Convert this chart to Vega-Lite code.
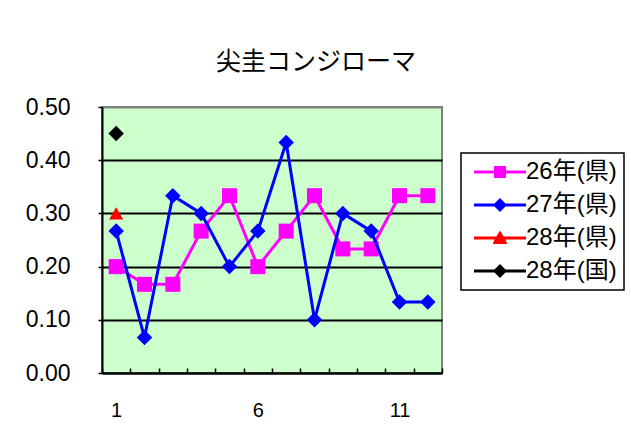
{
  "$schema": "https://vega.github.io/schema/vega-lite/v6.json",
  "width": 340,
  "height": 266,
  "autosize": {"type": "none"},
  "padding": {"left": 102, "top": 107, "right": 189, "bottom": 68},
  "background": "white",
  "title": {"text": "尖圭コンジローマ", "font": "Noto Sans CJK JP", "fontSize": 25, "fontWeight": "normal", "color": "black", "offset": 21, "anchor": "middle", "dx": 44},
  "config": {
    "view": {"fill": "#CCFFCC", "stroke": "#808080", "strokeWidth": 2},
    "font": "Liberation Sans",
    "legend": {
      "orient": "none", "legendX": 359, "legendY": 46,
      "padding": 7, "strokeColor": "black", "fillColor": "white", "strokeWidth": 1.5,
      "symbolSize": 144, "symbolStrokeWidth": 0, "symbolOpacity": 1,
      "labelFontSize": 24, "labelFont": "Liberation Sans, Noto Sans CJK JP", "labelColor": "black",
      "labelOffset": 34, "rowPadding": 9, "labelLimit": 200
    }
  },
  "data": {"values": [
    {"month": 1, "series": "26年(県)", "value": 0.2},
    {"month": 2, "series": "26年(県)", "value": 0.1667},
    {"month": 3, "series": "26年(県)", "value": 0.1667},
    {"month": 4, "series": "26年(県)", "value": 0.2667},
    {"month": 5, "series": "26年(県)", "value": 0.3333},
    {"month": 6, "series": "26年(県)", "value": 0.2},
    {"month": 7, "series": "26年(県)", "value": 0.2667},
    {"month": 8, "series": "26年(県)", "value": 0.3333},
    {"month": 9, "series": "26年(県)", "value": 0.2333},
    {"month": 10, "series": "26年(県)", "value": 0.2333},
    {"month": 11, "series": "26年(県)", "value": 0.3333},
    {"month": 12, "series": "26年(県)", "value": 0.3333},
    {"month": 1, "series": "27年(県)", "value": 0.2667},
    {"month": 2, "series": "27年(県)", "value": 0.0667},
    {"month": 3, "series": "27年(県)", "value": 0.3333},
    {"month": 4, "series": "27年(県)", "value": 0.3},
    {"month": 5, "series": "27年(県)", "value": 0.2},
    {"month": 6, "series": "27年(県)", "value": 0.2667},
    {"month": 7, "series": "27年(県)", "value": 0.4333},
    {"month": 8, "series": "27年(県)", "value": 0.1},
    {"month": 9, "series": "27年(県)", "value": 0.3},
    {"month": 10, "series": "27年(県)", "value": 0.2667},
    {"month": 11, "series": "27年(県)", "value": 0.1333},
    {"month": 12, "series": "27年(県)", "value": 0.1333},
    {"month": 1, "series": "28年(県)", "value": 0.3},
    {"month": 1, "series": "28年(国)", "value": 0.45}
  ]},
  "encoding": {
    "x": {
      "field": "month", "type": "ordinal",
      "scale": {"type": "band", "paddingInner": 0, "paddingOuter": 0, "domain": [1,2,3,4,5,6,7,8,9,10,11,12]},
      "axis": {
        "title": null, "labelExpr": "datum.value % 5 == 1 ? datum.label : ''", "labelAngle": 0,
        "labelFontSize": 20, "labelColor": "black", "labelFont": "Liberation Sans",
        "tickBand": "extent", "tickSize": -5, "tickColor": "black", "tickWidth": 1.5,
        "domainColor": "black", "domainWidth": 2, "labelPadding": 32, "grid": false
      }
    },
    "y": {
      "field": "value", "type": "quantitative",
      "scale": {"domain": [0, 0.5], "nice": false, "zero": true},
      "axis": {
        "title": null, "values": [0, 0.1, 0.2, 0.3, 0.4, 0.5], "format": ".2f",
        "labelFontSize": 23, "labelColor": "black", "labelFont": "Liberation Sans",
        "labelPadding": 28, "tickSize": 4, "tickColor": "black", "tickWidth": 1.5,
        "domainColor": "black", "domainWidth": 2,
        "grid": true, "gridWidth": 2,
        "gridColor": {"condition": {"test": "datum.value >= 0.5", "value": "#808080"}, "value": "black"}
      }
    }
  },
  "layer": [
    {
      "transform": [{"filter": {"field": "series", "equal": "26年(県)"}}],
      "mark": {"type": "line", "color": "#FF00FF", "strokeWidth": 3}
    },
    {
      "transform": [{"filter": {"field": "series", "equal": "26年(県)"}}],
      "mark": {"type": "point", "shape": "square", "filled": true, "size": 225, "color": "#FF00FF", "opacity": 1}
    },
    {
      "transform": [{"filter": {"field": "series", "equal": "27年(県)"}}],
      "mark": {"type": "line", "color": "#0000FF", "strokeWidth": 3}
    },
    {
      "transform": [{"filter": {"field": "series", "equal": "27年(県)"}}],
      "mark": {"type": "point", "shape": "diamond", "filled": true, "size": 240, "color": "#0000FF", "opacity": 1}
    },
    {
      "transform": [{"filter": {"field": "series", "equal": "28年(県)"}}],
      "mark": {"type": "point", "shape": "triangle-up", "filled": true, "size": 200, "color": "#FF0000", "opacity": 1}
    },
    {
      "transform": [{"filter": {"field": "series", "equal": "28年(国)"}}],
      "mark": {"type": "point", "shape": "diamond", "filled": true, "size": 240, "color": "#000000", "opacity": 1}
    },
    {
      "transform": [{"filter": "false"}],
      "mark": {"type": "point", "filled": true, "opacity": 1},
      "encoding": {
        "color": {
          "field": "series", "type": "nominal",
          "scale": {"domain": ["26年(県)", "27年(県)", "28年(県)", "28年(国)"], "range": ["#FF00FF", "#0000FF", "#FF0000", "#000000"]},
          "legend": {"title": null}
        },
        "shape": {
          "field": "series", "type": "nominal",
          "scale": {"domain": ["26年(県)", "27年(県)", "28年(県)", "28年(国)"], "range": [
            "M-1,-0.25H2.333V-1H4.333V-0.25H7.667V0.25H4.333V1H2.333V0.25H-1Z",
            "M-1,-0.25H2.416L3.333,-1.167L4.25,-0.25H7.667V0.25H4.25L3.333,1.167L2.416,0.25H-1Z",
            "M-1,-0.25H2.725L3.333,-1.25L3.941,-0.25H7.667V0.25H4.245L4.533,1H2.133L2.421,0.25H-1Z",
            "M-1,-0.25H2.416L3.333,-1.167L4.25,-0.25H7.667V0.25H4.25L3.333,1.167L2.416,0.25H-1Z"
          ]},
          "legend": {"title": null}
        }
      }
    }
  ]
}
